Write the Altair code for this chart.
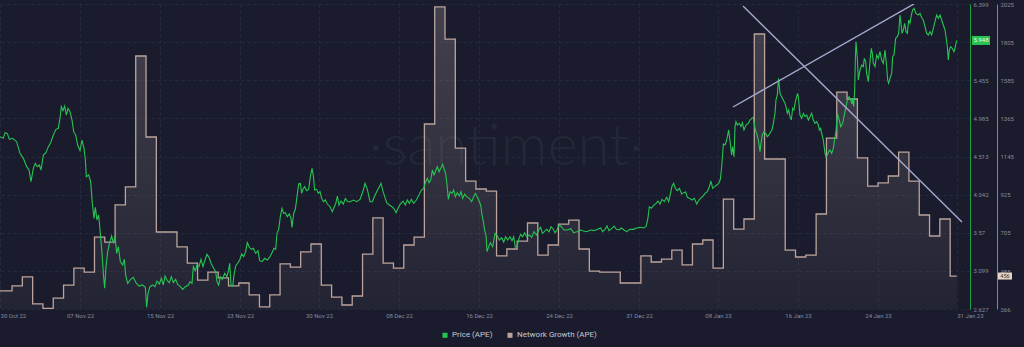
import altair as alt
import pandas as pd

# ---------------- data ----------------
# price of APE: hours after 2022-10-31 00:00 and price in USD
price_hours = [
    -4, 3.8, 7.7, 13.1, 17.8, 25.5, 34.8, 42.6, 50.4, 58.1, 63.5, 68.2, 73.6, 78.3, 82.9, 87.6, 91.5, 96.9,
    103.1, 108.6, 114.0, 120.2, 126.4, 131.8, 135.7, 138.8, 142.7, 146.6, 150.5, 154.3, 159.0, 163.7, 167.5,
    172.2, 176.8, 182.3, 186.9, 191.6, 194.7, 197.0, 202.5, 207.1, 211.0, 214.9, 218.0, 221.9, 225.7, 229.6,
    233.5, 236.6, 239.7, 242.8, 246.7, 251.3, 256.0, 259.9, 263.8, 267.6, 271.5, 276.2, 281.6, 285.5, 288.6,
    293.2, 300.2, 306.4, 312.6, 319.6, 327.4, 334.4, 337.5, 340.6, 345.2, 351.4, 356.9, 361.5, 366.9, 371.6,
    376.3, 380.2, 385.6, 390.2, 394.9, 399.6, 405.0, 409.6, 415.9, 421.3, 427.5, 434.5, 438.4, 443.0, 446.1,
    450.8, 454.6, 459.3, 463.9, 468.6, 473.3, 477.9, 482.6, 488.0, 493.4, 498.1, 501.2, 505.1, 509.0, 513.6,
    519.1, 524.5, 528.4, 530.7, 533.8, 537.7, 540.8, 544.7, 549.3, 554.0, 558.6, 563.3, 567.9, 571.8, 576.5,
    581.1, 585.8, 591.2, 596.6, 600.5, 606.0, 612.2, 618.4, 624.6, 629.2, 633.9, 637.8, 640.9, 644.8, 648.6,
    652.5, 656.4, 660.3, 664.9, 669.6, 673.5, 675.8, 679.7, 683.6, 687.5, 691.3, 695.2, 698.3, 701.4, 705.3,
    710.0, 714.6, 718.5, 722.4, 725.5, 728.6, 733.2, 737.1, 741.0, 744.9, 748.8, 753.4, 758.1, 764.3, 769.7,
    774.4, 778.2, 781.4, 785.2, 789.9, 795.3, 800.0, 805.4, 810.8,
    818.6, 826.4, 834.1, 841.9, 845.8, 851.2, 857.4, 862.9, 867.5, 873.0, 879.1, 883.0, 886.9, 891.6, 896.2,
    902.4, 908.6, 914.1, 918.0, 922.6, 928.0, 934.2, 939.7, 944.3, 949.0, 953.6, 959.1, 965.3, 971.5, 976.9,
    982.4, 987.0, 990.9, 994.8, 998.7, 1002.5, 1006.4, 1010.3, 1014.2, 1018.1, 1021.9, 1026.6, 1030.5, 1033.6,
    1036.7, 1039.8, 1043.7, 1048.3, 1052.2, 1056.1, 1060.7, 1065.4, 1069.3, 1073.1, 1077.8, 1082.5, 1088.7,
    1094.1, 1098.8, 1102.6, 1107.3, 1111.2, 1115.1, 1118.2, 1121.3, 1124.4, 1127.5, 1129.8, 1133.7, 1137.6,
    1143.0, 1148.4, 1153.1, 1158.5, 1163.9, 1168.6, 1173.3, 1177.9, 1183.3, 1188.0, 1191.9, 1195.7, 1199.6,
    1203.5, 1208.2, 1212.8, 1217.5, 1222.1, 1228.3, 1233.8, 1239.2, 1244.7, 1250.1, 1254.7, 1258.6, 1263.3,
    1268.7, 1274.1, 1278.8, 1283.4, 1288.1, 1292.7, 1297.4, 1302.8, 1309.0, 1316.8, 1324.6, 1331.6, 1339.3,
    1347.1, 1354.8, 1362.6, 1370.4, 1378.9, 1387.4, 1394.4, 1399.0, 1404.5, 1409.2, 1413.8, 1420.0, 1425.5,
    1430.9, 1437.1, 1442.5, 1448.8, 1455.0, 1462.7, 1470.5, 1478.2, 1486.0, 1493.7, 1499.9, 1503.8, 1507.7,
    1512.4, 1517.8, 1523.2, 1527.9, 1532.5, 1537.2, 1542.6, 1548.1, 1552.7, 1556.6, 1560.5, 1564.4, 1568.2,
    1572.9, 1577.5, 1583.0, 1587.6, 1592.3, 1596.2, 1601.6, 1607.0, 1612.4, 1617.9, 1623.3, 1628.0, 1632.6,
    1637.3, 1642.7, 1647.4, 1651.2, 1655.1, 1659.8, 1664.5, 1669.1, 1673.0, 1676.1, 1680.0, 1683.9, 1687.8,
    1692.4,
    1697.0, 1699.3, 1701.6, 1704.8, 1707.1, 1709.4, 1712.5, 1717.2, 1721.0, 1724.2, 1728.0, 1732.7, 1738.1,
    1742.0, 1745.9, 1749.8, 1753.6, 1757.5, 1761.4, 1765.3, 1767.6, 1770.7, 1774.6, 1778.5, 1782.4, 1786.2,
    1790.1, 1793.2, 1796.3, 1800.2, 1802.5, 1805.6, 1808.7, 1811.8, 1815.7, 1819.6, 1823.5, 1825.8, 1828.9,
    1832.0, 1835.1, 1838.2, 1841.3, 1844.4, 1846.8, 1850.6, 1853.0, 1855.3, 1858.4, 1862.3, 1866.2, 1870.0,
    1873.9, 1877.8, 1881.7, 1885.6, 1889.4, 1893.3, 1897.2, 1901.1, 1903.4, 1906.5, 1908.8, 1912.7, 1916.6,
    1918.9, 1922.0, 1925.1, 1928.2, 1932.1, 1936.0, 1939.9, 1942.2, 1945.3, 1950.0, 1953.1, 1957.7, 1961.6,
    1965.5, 1968.6, 1972.5, 1976.4, 1979.5, 1981.0, 1983.3, 1985.7, 1987.2, 1988.8, 1991.9, 1994.2, 1998.1,
    2002.0, 2005.8, 2008.2, 2011.3, 2013.6, 2017.5, 2021.4, 2024.5, 2026.8, 2029.1, 2033.0, 2036.9, 2040.8,
    2044.6, 2048.5, 2052.4, 2056.3, 2060.2, 2062.5, 2064.8, 2067.9, 2071.8, 2074.1, 2077.2, 2081.1, 2085.0,
    2088.1, 2091.2, 2093.5, 2095.9, 2099.0, 2102.1, 2105.2, 2108.3, 2111.4, 2114.5, 2117.6, 2120.7, 2123.8,
    2128.4, 2133.9, 2137.8, 2142.4, 2145.5, 2149.4, 2153.3, 2157.2, 2161.0, 2164.9, 2168.8, 2173.5, 2176.6,
    2180.4, 2184.3, 2188.2, 2192.1, 2196.0, 2198.3, 2201.4, 2203.7, 2206.0, 2209.2, 2213.0, 2216.9, 2219.2,
    2223.1,
]
price_values = [
    4.758, 4.738, 4.808, 4.799, 4.725, 4.738, 4.696, 4.552, 4.490, 4.387, 4.346, 4.202, 4.366, 4.428, 4.387,
    4.408, 4.346, 4.531, 4.560, 4.635, 4.684, 4.779, 4.849, 4.861, 4.985, 5.129, 5.080, 5.137, 5.026, 5.109,
    5.068, 4.964, 4.820, 4.779, 4.655, 4.585, 4.717, 4.614, 4.470, 4.263, 4.284, 4.202, 3.933, 3.748, 3.884,
    3.728, 3.789, 3.563, 3.315, 3.068, 2.883, 3.151, 3.336, 3.447, 3.530, 3.439, 3.530, 3.315, 3.398, 3.212,
    3.171, 3.241, 3.047, 2.944, 2.994, 3.019, 2.953, 2.911, 2.924, 2.895, 2.648, 2.821, 2.903, 2.924, 2.903,
    2.973, 2.936, 3.006, 2.924, 3.035, 2.977, 2.953, 3.027, 2.953, 2.994, 2.932, 2.903, 2.870, 2.903, 2.924,
    2.965, 2.944, 3.151, 3.101, 3.171, 3.151, 3.241, 3.151, 3.233, 3.303, 3.266, 3.184, 3.130, 3.089, 2.965,
    2.924, 3.027, 2.994, 3.068, 3.027, 3.118, 3.192, 2.924, 2.911, 3.047, 3.159, 3.192, 3.233, 3.307, 3.274,
    3.336, 3.447, 3.390, 3.365, 3.377, 3.315, 3.348, 3.225, 3.212, 3.254, 3.233, 3.274, 3.324, 3.377, 3.365,
    3.563, 3.612, 3.769, 3.872, 3.810, 3.818, 3.769, 3.802, 3.748, 3.637, 3.810, 3.860, 4.016, 4.173, 4.181,
    4.057, 4.107, 4.140, 4.090, 4.107, 4.263, 4.366, 4.272, 4.098, 4.107, 4.057, 4.078, 3.995, 3.954, 3.975,
    3.925, 3.892, 3.831, 3.892, 3.942, 4.024, 3.913, 3.962, 3.925, 3.995, 3.954, 3.954,
    3.975, 3.954, 3.983, 4.098, 4.181, 4.107, 3.954, 3.954, 4.016, 4.078, 4.140, 4.181, 4.098, 4.016, 3.942,
    3.913, 3.892, 3.860, 3.818, 3.872, 3.925, 3.962, 3.913, 3.975, 3.933, 3.983, 3.933, 3.975, 4.037, 4.098,
    4.119, 4.202, 4.243, 4.189, 4.222, 4.346, 4.284, 4.334, 4.387, 4.325, 4.366, 4.416, 4.346, 4.305, 4.160,
    3.983, 4.078, 4.057, 4.098, 4.016, 4.066, 4.025, 4.078, 3.995, 4.049, 4.016, 3.995, 3.954, 4.016, 4.057,
    4.008, 3.962, 3.913, 3.789, 3.707, 3.596, 3.542, 3.336, 3.398, 3.447, 3.398, 3.563, 3.538, 3.480, 3.509,
    3.455, 3.521, 3.480, 3.521, 3.472, 3.521, 3.390, 3.398, 3.489, 3.550, 3.521, 3.571, 3.521, 3.542, 3.513,
    3.583, 3.542, 3.604, 3.637, 3.563, 3.583, 3.612, 3.583, 3.645, 3.620, 3.571, 3.604, 3.666, 3.645, 3.604,
    3.604, 3.620, 3.571, 3.583, 3.604, 3.592, 3.583, 3.604, 3.596, 3.612, 3.629, 3.583, 3.612, 3.653, 3.596,
    3.620, 3.653, 3.612, 3.604, 3.629, 3.604, 3.583, 3.612, 3.612, 3.629, 3.637, 3.629, 3.645, 3.728, 3.892,
    3.872, 3.909, 3.933, 3.962, 3.925, 3.983, 3.954, 4.008, 3.954, 4.049, 4.148, 4.181, 4.119, 4.090, 4.119,
    4.049, 4.066, 4.074, 4.008, 3.995, 3.975, 3.995, 3.925, 3.975, 4.000, 4.024, 4.057, 4.078, 4.140, 4.210,
    4.119, 4.140, 4.160, 4.181, 4.231, 4.387, 4.668, 4.655, 4.717, 4.841,
    4.635, 4.531, 4.635, 4.511, 4.882, 4.944, 4.902, 4.923, 4.882, 4.931, 4.841, 4.902, 4.923, 4.964, 4.985,
    4.997, 4.861, 4.799, 4.717, 4.573, 4.676, 4.779, 4.820, 4.799, 4.758, 4.779, 4.820, 4.841, 4.923, 5.047,
    5.212, 5.274, 5.480, 5.294, 5.253, 5.212, 5.170, 5.129, 5.047, 5.088, 5.006, 4.964, 5.109, 5.088, 5.170,
    5.253, 5.294, 5.212, 5.026, 4.985, 5.047, 5.006, 5.026, 4.964, 5.006, 5.047, 4.964, 4.923, 4.944, 4.902,
    4.841, 4.861, 4.799, 4.717, 4.552, 4.511, 4.531, 4.573, 4.593, 4.552, 4.614, 4.758, 4.820, 5.047, 4.964,
    4.882, 4.923, 5.026, 5.129, 5.212, 5.253, 5.212, 5.162, 5.232, 5.129, 5.315, 5.706, 5.933, 5.727, 5.459,
    5.583, 5.645, 5.624, 5.727, 5.686, 5.541, 5.438, 5.686, 5.851, 5.789, 5.665, 5.624, 5.768, 5.727, 5.809,
    5.706, 5.665, 5.830, 5.624, 5.459, 5.418, 5.480, 5.541, 5.748, 5.768, 5.974, 5.995, 6.036, 6.263, 6.160,
    6.036, 6.077, 6.160, 6.057, 6.036, 6.201, 6.160, 6.263, 6.325, 6.345, 6.283, 6.263, 6.283, 6.222, 6.201,
    6.119, 6.036, 6.016, 6.057, 6.016, 6.098, 6.201, 6.263, 6.222, 6.263, 6.201, 6.139, 6.077, 5.995, 5.871,
    5.706, 5.830, 5.871, 5.851, 5.809, 5.851, 5.948,
]

# daily Network Growth of APE, 30 Oct 2022 .. 31 Jan 2023
net_start = "2022-10-30"
net_values = [
    370, 370, 399, 451, 295, 270, 329, 404, 502, 479, 681, 652, 866, 970, 1725, 1258, 710, 710, 624, 531,
    433, 479, 445, 399, 416, 347, 278, 347, 526, 508, 595, 641, 404, 335, 289, 341, 583, 791, 531, 502,
    635, 681, 1333, 2008, 1823, 1194, 1004, 958, 946, 572, 612, 658, 762, 577, 635, 756, 779, 612, 485,
    479, 479, 416, 416, 572, 537, 554, 606, 520, 641, 664, 502, 900, 727, 785, 1852, 1131, 1131, 606, 566,
    577, 814, 1252, 1517, 1477, 1137, 975, 993, 1033, 1171, 1004, 808, 687, 785, 456,
]
net_end_hours = 2223.1  # last data point, 31 Jan 2023 afternoon

# two hand-drawn trend lines (hours after 2022-10-31, price)
trend_names = ["rising", "rising", "falling", "falling"]
trend_hours = [1702.5, 2123.8, 1725.8, 2235.5]
trend_prices = [5.125, 6.400, 6.374, 3.703]

# axis ticks
x_tick_hours = [-3.9, 182.3, 368.5, 554.8, 738.7, 924.9, 1111.2, 1297.4, 1483.6, 1667.6, 1853.8, 2040.0, 2223.1]
x_domain_hours = [-3.96, 2254.2]
price_ticks = [2.627, 3.099, 3.57, 4.042, 4.513, 4.985, 5.455, 5.927, 6.399]
price_tick_hidden = 5.927  # covered by the last-price badge in the reference
net_ticks = [266, 485, 705, 925, 1145, 1365, 1585, 1805, 2025]

series_names = ["Price (APE)", "Network Growth (APE)"]
series_colors = ["#27c452", "#bca49c"]

# ---------------- tables ----------------
origin = pd.Timestamp("2022-10-31 00:00")


def stamp(h):
    return (origin + pd.Timedelta(hours=h)).strftime("%Y-%m-%dT%H:%M:%S")


def to_dt(h):
    t = origin + pd.Timedelta(hours=h)
    return alt.DateTime(year=t.year, month=t.month, date=t.day, hours=t.hour, minutes=t.minute)


price_df = pd.DataFrame({
    "date": [stamp(h) for h in price_hours],
    "value": price_values,
    "series": series_names[0],
})
net_dates = [(pd.Timestamp(net_start) + pd.Timedelta(days=i)).strftime("%Y-%m-%dT%H:%M:%S")
             for i in range(len(net_values))] + [stamp(net_end_hours)]
net_df = pd.DataFrame({
    "date": net_dates,
    "value": net_values + [net_values[-1]],
    "series": series_names[1],
})
trend_df = pd.DataFrame({
    "date": [stamp(h) for h in trend_hours],
    "value": trend_prices,
    "line": trend_names,
})
price_last = pd.DataFrame({"value": [price_values[-1]], "label": [f"{price_values[-1]:.3f}"]})
net_last = pd.DataFrame({"value": [net_values[-1]], "label": [str(net_values[-1])]})
mark_df = pd.DataFrame({"t": ["·santiment·"]})

# ---------------- styling ----------------
BG = "#1a1c2d"
GRID = "#272a3e"
LABEL = "#858a9f"
FONT = "Roboto"

edge_test = ("datum.value < time(datetime(2022, 9, 31)) || "
             "datum.value > time(datetime(2023, 0, 31))")

x_enc = alt.X(
    "date:T",
    title=None,
    scale=alt.Scale(domain=[to_dt(h) for h in x_domain_hours]),
    axis=alt.Axis(
        values=[to_dt(h) for h in x_tick_hours],
        format="%d %b %y",
        labelFont=FONT, labelFontSize=6, labelColor=LABEL, labelPadding=3,
        labelFlush=False, labelOverlap=False,
        labelAlign={"condition": {"test": edge_test, "value": "left"}, "value": "center"},
        ticks=False, domain=False,
        grid=True, gridColor=GRID, gridDash=[3, 3], gridWidth=1,
    ),
)

price_scale = alt.Scale(domain=[2.627, 6.399], nice=False, zero=False)
price_axis = alt.Axis(
    orient="right", values=price_ticks, format=".4~g",
    labelExpr=f"abs(datum.value - {price_tick_hidden}) < 0.0005 ? '' : datum.label",
    labelFont=FONT, labelFontSize=6, labelColor=LABEL, labelPadding=3,
    ticks=False, domain=True, domainColor="#1f9f42", domainWidth=1,
    grid=True, gridColor=GRID, gridDash=[3, 3], gridWidth=1,
)
net_scale = alt.Scale(domain=[266, 2025], nice=False, zero=False)
net_axis = alt.Axis(
    orient="right", offset=27, values=net_ticks, format="d",
    labelFont=FONT, labelFontSize=6, labelColor=LABEL, labelPadding=3,
    ticks=False, domain=True, domainColor="#84858f", domainWidth=1, grid=False,
)

color_enc = alt.Color(
    "series:N",
    scale=alt.Scale(domain=series_names, range=series_colors),
    legend=alt.Legend(
        orient="none", legendX=441, legendY=327, direction="horizontal", title=None,
        symbolType="square", symbolSize=6, symbolStrokeWidth=2.6,
        labelFont=FONT, labelFontSize=8, labelColor="#c6c7d0", labelOffset=3,
        columnPadding=10, padding=0,
    ),
)

# ---------------- network growth group ----------------
watermark = alt.Chart(mark_df).mark_text(
    font="Lato", fontSize=58, fontWeight=300, color="#242737",
    align="center", baseline="alphabetic",
).encode(x=alt.value(506), y=alt.value(161), text="t:N")

net_y = alt.Y("value:Q", title=None, scale=net_scale, axis=net_axis)

net_area = alt.Chart(net_df).mark_area(
    interpolate="step-after", clip=True,
    color=alt.Gradient(
        gradient="linear", x1=0, y1=0, x2=0, y2=1,
        stops=[alt.GradientStop(color="rgba(200,182,182,0.24)", offset=0),
               alt.GradientStop(color="rgba(200,182,182,0.02)", offset=1)],
    ),
).encode(x=x_enc, y=net_y)

net_line = alt.Chart(net_df).mark_line(
    interpolate="step-after", strokeWidth=1.3, clip=True,
).encode(x=x_enc, y=net_y, color=color_enc)

net_badge = alt.Chart(net_last).mark_rect(
    color="#e6d2c2", yOffset=-3.5, y2Offset=3.5,
).encode(x=alt.value(998), x2=alt.value(1012), y=net_y, y2="value:Q")
net_badge_text = alt.Chart(net_last).mark_text(
    font=FONT, fontSize=5.5, color="#3a3333", align="center", baseline="middle",
).encode(x=alt.value(1005), y=net_y, text="label:N")

net_group = alt.layer(watermark, net_area, net_line, net_badge, net_badge_text)

# ---------------- price group ----------------
price_y = alt.Y("value:Q", title=None, scale=price_scale, axis=price_axis)

price_line = alt.Chart(price_df).mark_line(strokeWidth=1.1, clip=True).encode(
    x=x_enc, y=price_y, color=color_enc
)
trend = alt.Chart(trend_df).mark_line(color="#a8a8cf", strokeWidth=1.4, clip=True).encode(
    x=x_enc, y=price_y, detail="line:N"
)
price_badge = alt.Chart(price_last).mark_rect(
    color="#27c452", yOffset=-4.5, y2Offset=4.5,
).encode(x=alt.value(972), x2=alt.value(990), y=price_y, y2="value:Q")
price_badge_text = alt.Chart(price_last).mark_text(
    font=FONT, fontSize=6, color="#e8f7ec", align="center", baseline="middle",
).encode(x=alt.value(981), y=price_y, text="label:N")

price_group = alt.layer(price_line, trend, price_badge, price_badge_text)

chart = (
    alt.layer(net_group, price_group)
    .resolve_scale(y="independent")
    .properties(
        width=970, height=305,
        autosize=alt.AutoSizeParams(type="none"),
        padding={"left": 0, "top": 4, "right": 54, "bottom": 38},
        background=BG,
    )
    .configure_view(strokeWidth=0)
)

chart.save("out.html", embed_options={"renderer": "svg", "actions": False})
